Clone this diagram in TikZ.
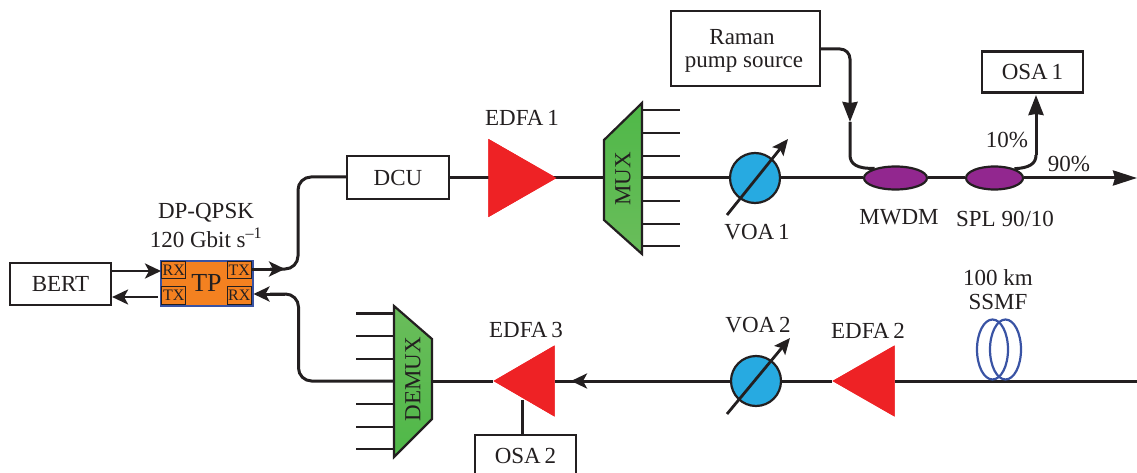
\documentclass[tikz,border=0pt]{standalone}
\usepackage{fontspec}
\setmainfont{Liberation Serif}
\usetikzlibrary{arrows.meta,shapes.geometric}
\definecolor{ink}{HTML}{231F20}
\definecolor{edfared}{HTML}{EE2225}
\definecolor{voablue}{HTML}{27AAE1}
\definecolor{tporange}{HTML}{F48120}
\definecolor{tpblue}{HTML}{3953A4}
\definecolor{purp}{HTML}{92278F}
\definecolor{greenA}{HTML}{4FB848}
\definecolor{greenB}{HTML}{6ABD5B}
\tikzset{
  lbl/.style={text=ink,inner sep=0pt,font=\fontsize{23}{25}\selectfont,align=center},
  boxn/.style={draw=ink,line width=2.2pt,fill=white,rectangle,inner sep=0pt,lbl},
  small/.style={draw=ink,line width=1.4pt,inner sep=0pt,text=ink,font=\fontsize{16}{17}\selectfont},
  fib/.style={draw=ink,line width=3pt},
  thin fib/.style={draw=ink,line width=2.8pt},
  tipb/.style={-{Stealth[length=20pt,width=15pt,inset=1pt]}},
  tips/.style={-{Stealth[length=16pt,width=15pt,inset=4pt]}},
  tipv/.style={-{Stealth[length=16pt,width=14pt,inset=3pt]}},
  amp/.style={isosceles triangle,isosceles triangle stretches,fill=edfared,inner sep=0pt,minimum width=78pt,minimum height=68pt},
  voa/.style={circle,draw=ink,line width=2.2pt,fill=voablue,minimum size=50pt,inner sep=0pt},
  coup/.style={ellipse,draw=ink,line width=2.2pt,fill=purp,inner sep=0pt},
  coil/.style={draw=tpblue,line width=2.2pt},
  mx/.style={draw=ink,line width=2.2pt},
}
\begin{document}
\begin{tikzpicture}[x=1pt,y=-1pt]
\useasboundingbox (0,0) rectangle (1137,473);
\clip (0,0) rectangle (1137,473);
% nodes
\node[boxn,minimum width=101pt,minimum height=42pt] (bert) at (60.5,284) {BERT};
\node[draw=tpblue,line width=2pt,fill=tporange,minimum width=92pt,minimum height=45pt,inner sep=0pt,text=ink,font=\fontsize{26}{28}\selectfont] (tp) at (206.5,283) {TP};
\node[small,minimum width=24pt,minimum height=17pt,anchor=north west] (rxa) at ([shift={(1.5,1.5)}]tp.north west) {RX};
\node[small,minimum width=24pt,minimum height=17pt,anchor=north east] (txa) at ([shift={(-1.5,1.5)}]tp.north east) {TX};
\node[small,minimum width=24pt,minimum height=18pt,anchor=south west] (txb) at ([shift={(1.5,-1.5)}]tp.south west) {TX};
\node[small,minimum width=24pt,minimum height=18pt,anchor=south east] (rxb) at ([shift={(-1.5,-1.5)}]tp.south east) {RX};
\node[boxn,minimum width=102pt,minimum height=43pt] (dcu) at (398,177.5) {DCU};
\node[amp,anchor=apex] (edfa1) at (557,178) {};
\coordinate (muxin) at (604,178);
\coordinate (muxout) at (642,178);
\node[voa] (voa1) at (755,178) {};
\node[boxn,minimum width=149pt,minimum height=75pt] (raman) at (745.5,48.5) {};
\node[lbl,anchor=base] at (742,44.5) {Raman};
\node[lbl,anchor=base] at (744,67.5) {pump source};
\node[coup,minimum width=63pt,minimum height=23pt] (mwdm) at (895.5,178) {};
\node[coup,minimum width=57pt,minimum height=23pt] (spl) at (994.5,178) {};
\node[boxn,minimum width=101pt,minimum height=41pt] (osa1) at (1032.5,72) {OSA\,1};
\coordinate (outr) at (1137,178);
\coordinate (inr) at (1137,381);
\node[amp,anchor=apex,shape border rotate=180,minimum width=71pt,minimum height=62pt] (edfa2) at (832,381) {};
\node[voa] (voa2) at (756,381) {};
\node[amp,anchor=apex,shape border rotate=180,minimum width=71pt,minimum height=61pt] (edfa3) at (493,381) {};
\coordinate (dmxin) at (432,381);
\coordinate (dmxout) at (394,381);
\node[boxn,minimum width=101pt,minimum height=50pt,anchor=north] (osa2) at (525.5,434) {};
\node[lbl] at (525.5,456) {OSA\,2};
% fibres
\draw[thin fib,tips] (bert.east |- 0,271) -- (rxa.west |- 0,271);
\draw[thin fib,tips] (158,297) -- (bert.east |- 0,297);
\coordinate (a1) at (285,269);
\draw[fib,tips] (txa.east |- a1) -- (a1);
\draw[fib,rounded corners=13pt] (270,269) -- (298,269) -- (298,177) -- (dcu.west |- 0,177);
\coordinate (a2) at (tp.east |- 0,294);
\draw[fib,tips] (285,294) -- (a2);
\draw[fib,rounded corners=13pt] (270,294) -- (298.5,294) -- (298.5,381) -- (dmxout);
\draw[fib] (dcu.east |- 0,178) -- (edfa1.apex);
\draw[fib] (edfa1.apex) -- (muxin);
\draw[fib] (muxout) -- (voa1.west);
\draw[fib] (voa1.east) -- (mwdm.west);
\draw[fib] (mwdm.east) -- (spl.west);
\draw[fib,-{Stealth[length=24pt,width=15pt,inset=2pt]}] (spl.east) -- (outr);
\coordinate (r1) at (850,122);
\draw[fib,tipb,rounded corners=10pt] (raman.east |- 0,49) -- (850,49) -- (r1);
\draw[fib] (r1) -- (850,155) .. controls (850,164) and (857,169) .. (mwdm.155);
\draw[fib,tipb] (1036,155) -- (1036,95);
\draw[fib] (spl.25) .. controls (1029,168) and (1036,164) .. (1036,155);
\draw[fib] (inr) -- (edfa2.east |- 0,381);
\draw[fib] (edfa2.apex) -- (voa2.east);
\draw[fib] (voa2.west) -- (edfa3.east |- 0,381);
\coordinate (a3) at (571,381);
\draw[fib,tips] (590,381) -- (a3);
\draw[fib] (dmxin) -- (edfa3.apex);
\draw[fib] (522,400) -- (522,434);
% components over the fibres
\node[amp,anchor=apex] at (557,178) {};
\node[amp,anchor=apex,shape border rotate=180,minimum width=71pt,minimum height=62pt] at (832,381) {};
\node[amp,anchor=apex,shape border rotate=180,minimum width=71pt,minimum height=61pt] at (493,381) {};
% MUX
\draw[mx,top color=greenA,bottom color=greenB,line join=miter] (604,140) -- (642,103) -- (642,254) -- (604,220) -- cycle;
\node[lbl,rotate=90] (mux) at (623,179) {MUX};
\foreach \y in {110,133,156,201,224,246}
  \draw[thin fib] (642,\y) -- (680,\y);
% DEMUX
\draw[mx,top color=greenB,bottom color=greenA,line join=miter] (394,306) -- (432,339) -- (432,419) -- (394,457) -- cycle;
\node[lbl,rotate=90] (demux) at (413,379) {DEMUX};
\foreach \y in {313.5,336,359,404,427,449}
  \draw[thin fib] (356,\y) -- (394,\y);
% VOA arrows
\draw[thin fib,tipv] (727,215) -- (788,139);
\draw[thin fib,tipv] (727,414) -- (790,338);
% SSMF
\draw[coil] (992.5,349.5) ellipse (15.5pt and 30pt);
\draw[coil] (1005.5,349.5) ellipse (15.5pt and 30pt);
% labels
\node[lbl] at (206,213) {DP-QPSK};
\node[lbl] at (206,238) {120 Gbit s\textsuperscript{–1}};
\node[lbl] at (522,118) {EDFA\,1};
\node[lbl] at (757,232) {VOA\,1};
\node[lbl] at (899,217) {MWDM};
\node[lbl] at (1005,219) {SPL 90/10};
\node[lbl] at (1007,140) {10\%};
\node[lbl] at (1069,164) {90\%};
\node[lbl] at (998,278) {100 km};
\node[lbl] at (998,302) {SSMF};
\node[lbl] at (758,325) {VOA\,2};
\node[lbl] at (868,331) {EDFA\,2};
\node[lbl] at (526,330) {EDFA\,3};
\end{tikzpicture}
\end{document}
